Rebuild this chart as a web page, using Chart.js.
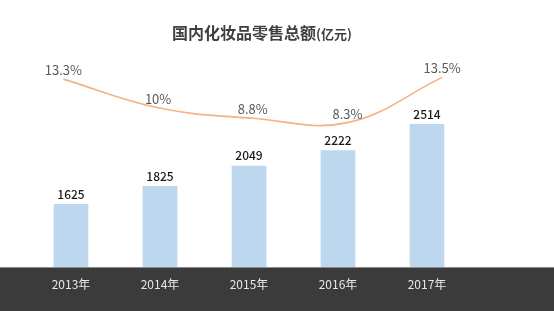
<!DOCTYPE html>
<html>
<head>
<meta charset="utf-8">
<script src="https://cdn.jsdelivr.net/npm/chart.js@4/dist/chart.umd.min.js"></script>
<style>
  html, body { margin: 0; padding: 0; background: #fff; }
  #wrap { width: 554px; height: 311px; }
</style>
</head>
<body>
<div id="wrap"><canvas id="c" width="554" height="311"></canvas></div>
<script>
const years = ['2013年', '2014年', '2015年', '2016年', '2017年'];
const sales = [1625, 1825, 2049, 2222, 2514];
const growth = [13.3, 10, 8.8, 8.3, 13.5];
const growthLabels = ['13.3%', '10%', '8.8%', '8.3%', '13.5%'];

const FONT = '"Noto Sans CJK SC", "Noto Sans", sans-serif';

const decor = {
  id: 'decor',
  beforeDraw(chart) {
    const ctx = chart.ctx;
    ctx.save();
    ctx.fillStyle = '#ffffff';
    ctx.fillRect(0, 0, chart.width, chart.height);
    const bottom = chart.chartArea.bottom;
    ctx.fillStyle = '#3b3b3b';
    ctx.fillRect(0, bottom, chart.width, chart.height - bottom);
    ctx.fillStyle = '#8a8a8a';
    ctx.fillRect(0, bottom, chart.width, 1);
    ctx.restore();
  },
  afterDatasetsDraw(chart) {
    const ctx = chart.ctx;
    ctx.save();
    ctx.textAlign = 'center';
    ctx.textBaseline = 'middle';

    // bar values
    ctx.font = '500 12px ' + FONT;
    ctx.fillStyle = '#1a1a1a';
    chart.getDatasetMeta(0).data.forEach((bar, i) => {
      ctx.fillText(String(sales[i]), bar.x, bar.y - 10);
    });

    // growth labels
    ctx.font = '13px ' + FONT;
    ctx.fillStyle = '#595959';
    chart.getDatasetMeta(1).data.forEach((pt, i) => {
      ctx.fillText(growthLabels[i], pt.x, pt.y - 9);
    });

    // title
    ctx.fillStyle = '#3f3f3f';
    ctx.textAlign = 'left';
    const main = '国内化妆品零售总额';
    const unit = '(亿元)';
    ctx.font = 'bold 16px ' + FONT;
    const w1 = ctx.measureText(main).width;
    ctx.font = 'bold 13px ' + FONT;
    const w2 = ctx.measureText(unit).width;
    const x0 = 262 - (w1 + w2) / 2;
    ctx.font = 'bold 16px ' + FONT;
    ctx.fillText(main, x0, 33);
    ctx.font = 'bold 13px ' + FONT;
    ctx.fillText(unit, x0 + w1, 34);
    ctx.restore();
  }
};

new Chart(document.getElementById('c'), {
  data: {
    labels: years,
    datasets: [
      {
        type: 'bar',
        data: sales,
        backgroundColor: '#bdd7ee',
        barPercentage: 0.39,
        categoryPercentage: 1,
        grouped: false,
        xAxisID: 'x',
        yAxisID: 'y',
        order: 2
      },
      {
        type: 'line',
        data: growth.map((v, i) => ({ x: i, y: v })),
        borderColor: '#f4b183',
        borderWidth: 1.6,
        pointRadius: 0,
        tension: 0.4,
        fill: false,
        xAxisID: 'xl',
        yAxisID: 'y2',
        order: 1
      }
    ]
  },
  options: {
    responsive: false,
    animation: false,
    layout: { padding: { top: 60, left: 26.5, right: 82.5, bottom: 0 } },
    plugins: {
      legend: { display: false },
      tooltip: { enabled: false }
    },
    scales: {
      x: {
        type: 'category',
        offset: true,
        grid: { display: false },
        border: { display: false },
        ticks: {
          color: '#e8e8e8',
          padding: 2,
          font: { family: FONT, size: 12 }
        },
        afterFit(axis) { axis.height = 44; }
      },
      xl: {
        type: 'linear',
        display: false,
        min: -0.39,
        max: 4.31
      },
      y: {
        display: false,
        min: 925,
        max: 3225
      },
      y2: {
        display: false,
        min: -8.3,
        max: 15.5
      }
    }
  },
  plugins: [decor]
});
</script>
</body>
</html>
